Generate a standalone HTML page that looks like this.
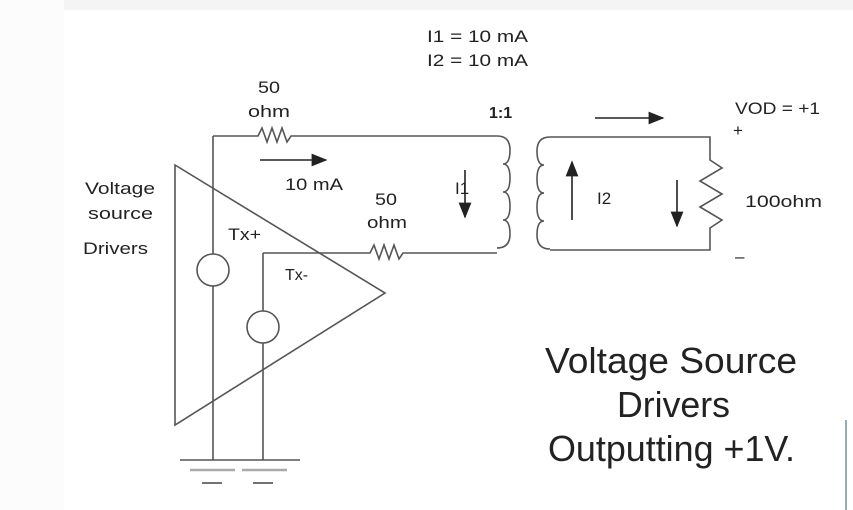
<!DOCTYPE html>
<html><head><style>
body{margin:0;background:#fff;}
svg{display:block;}
text{font-family:"Liberation Sans",sans-serif;fill:#222;}
</style></head><body>
<svg width="853" height="510" viewBox="0 0 853 510">
<rect x="0" y="0" width="853" height="10" fill="#f4f4f4"/>
<rect x="0" y="0" width="64" height="510" fill="#fcfcfc"/>
<line x1="846" y1="420" x2="846" y2="510" stroke="#9ab" stroke-width="2"/>
<defs><marker id="a" markerWidth="10" markerHeight="8" refX="9" refY="4" orient="auto"><path d="M0,0 L10,4 L0,8 z" fill="#222"/></marker></defs>
<g stroke="#555" stroke-width="1.6" fill="none">
<path d="M175,165 L385,293 L175,425 Z"/>
<path d="M213,136 V254 M213,286 V460"/>
<circle cx="213" cy="270" r="16"/>
<path d="M263,253 V311 M263,343 V460"/>
<circle cx="263" cy="327" r="16"/>
<path d="M213,136 H258 l4,-8 l5,14 l5,-14 l5,14 l5,-14 l5,14 l4,-6 H497"/>
<path d="M263,253 H370 l4,-8 l5,14 l5,-14 l5,14 l5,-14 l5,14 l4,-6 H497"/>
<path d="M497,136 q13,0 13,14 q0,14 -7,14 q7,0 7,14 q0,14 -7,14 q7,0 7,14 q0,14 -7,14 q7,0 7,14 q0,14 -13,14"/>
<path d="M550,137 q-13,0 -13,14 q0,14 7,14 q-7,0 -7,14 q0,14 7,14 q-7,0 -7,14 q0,14 7,14 q-7,0 -7,14 q0,14 13,14"/>
<path d="M550,137 H710 V160 l12,8 l-22,13 l22,13 l-22,13 l22,13 l-12,8 V250 H550"/>
<path d="M180,460 H300"/>
</g>
<g stroke="#aaa" stroke-width="2.5">
<path d="M190,470 H235 M242,470 H287"/>
</g>
<g stroke="#444" stroke-width="1.5">
<path d="M202,483 H222 M253,483 H273"/>
</g>
<g stroke="#222" stroke-width="1.6" fill="none">
<line x1="260" y1="160" x2="326" y2="160" marker-end="url(#a)"/>
<line x1="465" y1="170" x2="465" y2="217" marker-end="url(#a)"/>
<line x1="572" y1="220" x2="572" y2="162" marker-end="url(#a)"/>
<line x1="595" y1="118" x2="663" y2="118" marker-end="url(#a)"/>
<line x1="677" y1="180" x2="677" y2="226" marker-end="url(#a)"/>
</g>
<g font-size="17">
<text x="427" y="42" textLength="101" lengthAdjust="spacingAndGlyphs">I1 = 10 mA</text>
<text x="427" y="66" textLength="101" lengthAdjust="spacingAndGlyphs">I2 = 10 mA</text>
<text x="258" y="93" textLength="22" lengthAdjust="spacingAndGlyphs">50</text>
<text x="248" y="117" textLength="42" lengthAdjust="spacingAndGlyphs">ohm</text>
<text x="489" y="118" font-weight="bold" font-size="16">1:1</text>
<text x="735" y="114" textLength="85" lengthAdjust="spacingAndGlyphs">VOD = +1</text>
<text x="733" y="136">+</text>
<text x="745" y="207" textLength="77" lengthAdjust="spacingAndGlyphs">100ohm</text>
<text x="735" y="262">–</text>
<text x="85" y="194" textLength="70" lengthAdjust="spacingAndGlyphs">Voltage</text>
<text x="88" y="219" textLength="65" lengthAdjust="spacingAndGlyphs">source</text>
<text x="83" y="254" textLength="65" lengthAdjust="spacingAndGlyphs">Drivers</text>
<text x="228" y="240" textLength="33" lengthAdjust="spacingAndGlyphs">Tx+</text>
<text x="285" y="280" font-size="16">Tx-</text>
<text x="285" y="190" textLength="58" lengthAdjust="spacingAndGlyphs">10 mA</text>
<text x="375" y="205" textLength="22" lengthAdjust="spacingAndGlyphs">50</text>
<text x="367" y="228" textLength="40" lengthAdjust="spacingAndGlyphs">ohm</text>
<text x="455" y="194">I1</text>
<text x="597" y="204">I2</text>
</g>
<g font-size="36">
<text x="545" y="373" textLength="252" lengthAdjust="spacingAndGlyphs">Voltage  Source</text>
<text x="617" y="417" textLength="113" lengthAdjust="spacingAndGlyphs">Drivers</text>
<text x="548" y="461" textLength="247" lengthAdjust="spacingAndGlyphs">Outputting +1V.</text>
</g>
</svg>
</body></html>
